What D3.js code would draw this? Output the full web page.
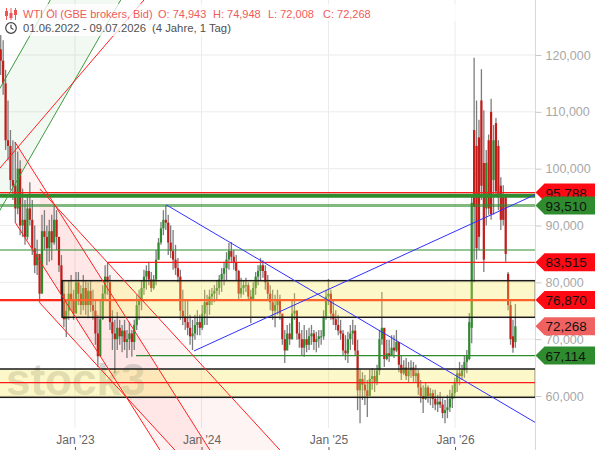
<!DOCTYPE html>
<html>
<head>
    <meta charset="utf-8">
    <style>
        body {
            margin: 0;
            background: #fff;
        }

        svg {
            display: block;
            font-family: "Liberation Sans", Arial, sans-serif;
        }

        .y .domain,
        .x .domain {
            display: none;
        }

        .y .tick line {
            stroke: #c8c8c8;
        }

        .y .tick text {
            font-size: 12.5px;
            fill: #a8a8a8;
        }

        .x .tick line {
            stroke: #555;
        }

        .x .tick text {
            font-size: 12px;
            fill: #666;
        }
    </style>
</head>

<body>
    <svg width="595" height="450"></svg>

    <script src="https://d3js.org/d3.v7.min.js"></script>

    <script>
        // weekly candles, WTI, starting 01.06.2022
        const opens = [
            121, 119, 115, 105, 104, 98, 97, 93, 100, 90,
            91, 88, 93, 91, 86, 83, 85, 78, 89, 88,
            86, 89, 87, 91, 88, 83, 78, 73.5, 75, 78,
            77, 74.5, 80, 78, 76, 79, 76, 78.5, 76, 75,
            71, 67, 73.5, 78, 81, 80, 73, 71, 70, 72,
            70.5, 71.5, 69.5, 70, 71, 69.5, 72.5, 76, 77, 79,
            81, 82, 80.5, 79, 80.5, 84, 87, 89.5, 91, 90.5,
            87, 85.5, 84, 82.5, 81, 75, 74, 73, 72, 70.5,
            71, 72.5, 73, 72, 74.5, 76.5, 76, 77.5, 78, 78.5,
            79, 80.5, 81.5, 82.5, 84, 85.5, 84.5, 83.5, 82, 78,
            79, 79.5, 79.5, 77.5, 77, 79, 81, 82, 83, 82,
            80, 78, 76.5, 75, 76, 77, 74.5, 70, 68, 71,
            70, 74.5, 75, 71, 70, 68.5, 70, 69, 70.5, 71,
            69.5, 70, 70.5, 70.5, 74, 77.5, 78, 74.5, 73.5, 72.5,
            71.5, 71, 68, 67.5, 70, 71, 71.5, 68, 61, 63,
            62, 61, 60, 63, 63.5, 62.5, 64.5, 70, 72, 66.5,
            67.5, 67, 68.5, 68, 69.5, 65.5, 64, 65, 63.5, 64.5,
            65, 63.5, 64, 61.5, 60, 59.5, 61.5, 60, 60.5, 59.5,
            58.5, 59, 58.5, 57, 57.5, 58, 59.5, 60.5, 62.5, 64,
            63.5, 64.5, 66, 66.5, 72, 106.8, 104, 105.5, 112, 101,
            93, 105, 110, 98, 108, 104, 97, 95, 95, 81.5,
            76, 70.5, 69.5
        ];

        const highs = [
            123.5, 122.6, 117.4, 112, 106.8, 105, 104.7, 103, 101.5, 96.5,
            94.5, 95.4, 97.6, 94.5, 90, 87.5, 84.8, 91.9, 92.7, 90,
            91, 91.9, 93.6, 92.7, 87.5, 84.8, 80.4, 76.9, 80.4, 81.3,
            78.7, 81.8, 81.8, 79.5, 81.3, 80.4, 80, 80.4, 78.7, 76.9,
            74.3, 76.9, 79.5, 83, 83.4, 81.3, 75.1, 73.4, 74.8, 73.4,
            72.5, 73.4, 71.6, 73, 71.6, 73.4, 77.8, 78.7, 80.4, 82.2,
            83, 83.6, 81.8, 81.3, 85.7, 87.8, 90.6, 92.7, 93.6, 91.9,
            90, 89.2, 86.6, 84.3, 82.2, 78.7, 76.9, 76.9, 74.3, 73.4,
            74.3, 75.1, 74.3, 76, 78.7, 77.8, 78.7, 79, 79.5, 80.4,
            81.3, 82.5, 83.6, 85.3, 86.9, 87.1, 85.7, 84.8, 82.2, 80.8,
            80.4, 80.8, 80, 78.7, 80, 81.8, 83, 84.3, 83.9, 83,
            81.3, 79.5, 78.7, 77.8, 78.7, 77.8, 74.3, 71.6, 72.5, 72.8,
            76.9, 78.1, 75.1, 73, 71.6, 72.5, 71.6, 72, 72.5, 71.6,
            71.3, 71.6, 71.6, 75.1, 78.7, 80.6, 78.7, 76.9, 75.1, 74.3,
            73.4, 71.6, 70.7, 71.3, 72.5, 73.4, 72.5, 69.9, 64.6, 64.2,
            63.7, 62.8, 64.6, 64.9, 64.6, 65.5, 71.6, 78.3, 71.6, 69.9,
            69.9, 70.7, 70.7, 71.6, 69, 67.2, 66.3, 66.7, 66, 66.3,
            66, 65.5, 64.6, 62.8, 61.9, 62.3, 61.9, 61.4, 61.1, 61.1,
            60.2, 60.7, 59.6, 59.3, 60.2, 61.1, 61.9, 63.2, 64.6, 66,
            65.5, 67.2, 68.1, 74.6, 95, 119.5, 112, 108.6, 117.5, 110.3,
            103.3, 106, 112.3, 107.7, 108.9, 105, 98.5, 97.1, 95.4, 81.8,
            76.9, 73.4, 76.2
        ];

        const lows = [
            116.5, 113, 103.3, 101.5, 96.2, 94.5, 90.6, 92, 88.3, 88,
            86.6, 87.5, 90, 84.8, 81.6, 81.3, 76.4, 78.7, 85.7, 83,
            83.6, 83.9, 86.6, 85.7, 81.8, 76.9, 72.1, 70.4, 73.4, 75.1,
            73.4, 75.1, 76, 74.3, 75.1, 74.3, 73.7, 74.8, 73.4, 69,
            65.1, 68.1, 73.4, 76.9, 77.8, 71.6, 68.1, 64, 68.1, 69,
            67.7, 68.1, 66.7, 68.1, 66.9, 68.1, 71.6, 73.4, 75.1, 77.8,
            78.7, 79.5, 78.3, 78.7, 79.5, 83.9, 86.6, 88.3, 89.2, 84.8,
            84.3, 82.2, 81.3, 80, 73.4, 72.5, 71.6, 70.7, 69, 68.1,
            69.9, 70.7, 70.7, 71.6, 72.5, 72.5, 74.3, 76, 76.5, 76.9,
            77.8, 78.3, 79.5, 80.4, 82.2, 83.6, 82.2, 80.4, 76.9, 77.3,
            77.8, 78.3, 76.9, 72.8, 76.9, 77.8, 79.5, 80.4, 80.8, 78.7,
            76.9, 75.1, 73.4, 72.1, 74.3, 73.4, 69, 65.8, 68.1, 69,
            69.9, 73.4, 69.9, 68.5, 67.2, 66.9, 67.7, 68.1, 69, 68.1,
            67.7, 68.5, 69, 69.9, 73.4, 76, 73.4, 72.5, 71.6, 70.7,
            69.9, 67.2, 66.3, 65.8, 68.1, 69, 67.2, 57.5, 55.2, 59.3,
            58.4, 56.3, 60.2, 61.1, 60.7, 61.9, 63.7, 69, 65.1, 66.3,
            66, 67.2, 66.7, 67.7, 64.2, 62.8, 63.7, 62.8, 62.3, 63.2,
            62.5, 62.3, 60.2, 58.8, 57, 59.3, 58.8, 58.4, 57.9, 57.5,
            57.2, 57.9, 56.1, 55.2, 56.1, 57.2, 57.9, 59.6, 60.7, 61.9,
            62.8, 63.2, 64, 66.3, 69.3, 80, 84, 85.7, 94.5, 81.8,
            90, 91.9, 91, 91.9, 95.4, 92.7, 89.2, 90, 83.6, 75.1,
            69, 67.6, 68.5
        ];

        const closes = [
            119, 115, 105, 104, 98, 97, 93, 100, 90, 91,
            88, 93, 91, 86, 83, 85, 78, 89, 88, 86,
            89, 87, 91, 88, 83, 78, 73.5, 75, 78, 77,
            74.5, 80, 78, 76, 79, 76, 78.5, 76, 75, 71,
            67, 73.5, 78, 81, 80, 73, 71, 70, 72, 70.5,
            71.5, 69.5, 70, 71, 69.5, 72.5, 76, 77, 79, 81,
            82, 80.5, 79, 80.5, 84, 87, 89.5, 91, 90.5, 87,
            85.5, 84, 82.5, 81, 75, 74, 73, 72, 70.5, 71,
            72.5, 73, 72, 74.5, 76.5, 76, 77.5, 78, 78.5, 79,
            80.5, 81.5, 82.5, 84, 85.5, 84.5, 83.5, 82, 78, 79,
            79.5, 79.5, 77.5, 77, 79, 81, 82, 83, 82, 80,
            78, 76.5, 75, 76, 77, 74.5, 70, 68, 71, 70,
            74.5, 75, 71, 70, 68.5, 70, 69, 70.5, 71, 69.5,
            70, 70.5, 70.5, 74, 77.5, 78, 74.5, 73.5, 72.5, 71.5,
            71, 68, 67.5, 70, 71, 71.5, 68, 61, 63, 62,
            61, 60, 63, 63.5, 62.5, 64.5, 70, 72, 66.5, 67.5,
            67, 68.5, 68, 69.5, 65.5, 64, 65, 63.5, 64.5, 65,
            63.5, 64, 61.5, 60, 59.5, 61.5, 60, 60.5, 59.5, 58.5,
            59, 58.5, 57, 57.5, 58, 59.5, 60.5, 62.5, 64, 63.5,
            64.5, 66, 67, 73, 94, 93.3, 86, 88, 97, 84,
            101, 93, 92, 105, 96, 95, 91, 91, 85, 76,
            70, 68.5, 72.268
        ];

        const yTicks = [60, 70, 80, 90, 100, 110, 120];
        const yearTicks = ["2023-01-01", "2024-01-01", "2025-01-01", "2026-01-01"];

        // price tags on the right
        const tagValues = [95.788, 93.510, 83.515, 76.870, 72.268, 67.114];
        const tagKinds = ["res", "sup", "res", "res", "last", "sup"];

        // horizontal drawings: [value, from date]
        const redLevels = [[95.788, "2022-05-01"], [83.515, "2023-04-06"], [62.35, "2022-05-01"]];
        const greenLevels = [[85.69, "2022-05-01"], [67.114, "2023-06-26"]];
        const boldGreenLevel = [95.25, "2022-05-01"];
        const softGreenLevel = [93.510, "2022-05-01"];
        const mainLevel = [76.870, "2022-05-01"];
        const zones = [[73.85, 80.29, "2022-11-25"], [59.77, 64.75, "2022-05-01"]];

        // trend lines: start point and a second point on the line [date, value]
        const greenChannel = [[["2022-05-30", 114.2], ["2022-10-22", 129.68]], [["2022-05-30", 92.73], ["2023-05-13", 129.68]]];
        const redRise = [["2022-05-30", 100.12], ["2023-07-19", 129.68]];
        const steepChannel = [[["2022-07-12", 104.69], ["2024-01-25", 50.5]], [["2022-07-12", 90.62], ["2023-09-03", 50.5]]];
        const flatChannel = [[["2022-09-22", 96.42], ["2024-08-14", 50.5]], [["2022-09-22", 76.36], ["2023-10-16", 50.5]]];
        const blueLines = [[["2023-09-22", 93.61], ["2026-08-18", 55.42]], [["2023-12-10", 67.92], ["2026-08-18", 95.37]]];

        let width = 595;
        let height = 450;
        let plotRight = 535.5;

        let svg = d3.select("svg");
        let parseDay = d3.timeParse("%Y-%m-%d");
        let de = d3.formatLocale({ decimal: ",", thousands: ".", grouping: [3], currency: ["", " €"] });
        let fmt = de.format(",.3f");

        let startDay = parseDay("2022-06-01");
        let candles = closes.map(function (c, i) {
            return {
                date: d3.timeDay.offset(startDay, i * 7),
                open: opens[i],
                high: highs[i],
                low: lows[i],
                close: c
            }
        })

        let x = d3.scaleTime()
            .domain([startDay, parseDay("2026-07-09")])
            .range([0.73, 520.6])

        let y = d3.scaleLinear()
            .domain([60, 120])
            .range([396, 55])

        let pt = p => [x(parseDay(p[0])), y(p[1])];

        svg.append("defs").append("clipPath")
            .attr("id", "plot")
            .append("rect")
            .attr("x", 0).attr("y", 0)
            .attr("width", plotRight).attr("height", height)

        // grid
        svg.append("g")
            .selectAll("line")
            .data(yTicks)
            .join("line")
            .attr("x1", 0).attr("x2", plotRight)
            .attr("y1", d => y(d)).attr("y2", d => y(d))
            .style("stroke", "#ebebeb")

        svg.append("g")
            .selectAll("line")
            .data(yearTicks)
            .join("line")
            .attr("x1", d => x(parseDay(d))).attr("x2", d => x(parseDay(d)))
            .attr("y1", 0).attr("y2", 428)
            .style("stroke", "#ebebeb")

        let plot = svg.append("g").attr("clip-path", "url(#plot)");

        // channel fills
        function channelFill(ch, fill, back) {
            let a = pt(ch[0][0]), b = pt(ch[0][1]), c = pt(ch[1][0]);
            let dx = b[0] - a[0], dy = b[1] - a[1];
            plot.append("path")
                .attr("d", d3.line()([
                    [a[0] - back * dx, a[1] - back * dy],
                    [a[0] + 3 * dx, a[1] + 3 * dy],
                    [c[0] + 3 * dx, c[1] + 3 * dy],
                    [c[0] - back * dx, c[1] - back * dy]
                ]) + "Z")
                .style("fill", fill)
        }

        function ray(line, color, back, w) {
            let a = pt(line[0]), b = pt(line[1]);
            let dx = b[0] - a[0], dy = b[1] - a[1];
            plot.append("line")
                .attr("x1", a[0] - back * dx).attr("y1", a[1] - back * dy)
                .attr("x2", a[0] + 3 * dx).attr("y2", a[1] + 3 * dy)
                .style("stroke", color)
                .style("stroke-width", w || 1)
        }

        channelFill(greenChannel, "rgba(0,110,0,0.05)", 1);
        channelFill(steepChannel, "rgba(255,0,0,0.05)", 0);
        channelFill(flatChannel, "rgba(255,0,0,0.045)", 0);

        // watermark
        plot.append("text")
            .attr("x", 6)
            .attr("y", 395)
            .attr("font-size", 44)
            .attr("font-weight", "bold")
            .style("fill", "#9a9a9a")
            .style("opacity", 0.38)
            .text("stock3")

        // candles
        let cg = plot.append("g");
        cg.selectAll(".wick")
            .data(candles)
            .join("line")
            .attr("class", "wick")
            .attr("x1", d => x(d.date)).attr("x2", d => x(d.date))
            .attr("y1", d => y(d.high)).attr("y2", d => y(d.low))
            .style("stroke", "#7d7d7d")
            .style("stroke-width", 1.3)

        cg.selectAll(".body")
            .data(candles)
            .join("rect")
            .attr("class", "body")
            .attr("x", d => x(d.date) - 1.1)
            .attr("width", 2.2)
            .attr("y", d => y(Math.max(d.open, d.close)))
            .attr("height", d => Math.max(1, Math.abs(y(d.open) - y(d.close))))
            .style("fill", d => d.close >= d.open ? "#2d8a2d" : "#c21d1a")

        function hline(v, from, color, w, op) {
            plot.append("line")
                .attr("x1", x(parseDay(from))).attr("x2", plotRight)
                .attr("y1", y(v)).attr("y2", y(v))
                .style("stroke", color)
                .style("stroke-width", w)
                .style("opacity", op || 1)
        }

        hline(mainLevel[0], mainLevel[1], "#ff2a1a", 2.2);

        // zones
        zones.forEach(function (z) {
            plot.append("rect")
                .attr("x", x(parseDay(z[2])))
                .attr("width", plotRight - x(parseDay(z[2])))
                .attr("y", y(z[1]))
                .attr("height", y(z[0]) - y(z[1]))
                .style("fill", "rgb(250,232,80)")
                .style("fill-opacity", 0.3)
                .style("stroke", "#1a1a1a")
                .style("stroke-width", 1.5)
        })

        hline(boldGreenLevel[0], boldGreenLevel[1], "#2e8b2e", 4);
        hline(softGreenLevel[0], softGreenLevel[1], "#2e8b2e", 3, 0.6);
        greenLevels.forEach(l => hline(l[0], l[1], "#2e8b2e", 1.2));
        redLevels.forEach(l => hline(l[0], l[1], "#ff1a1a", 1.3));

        // trend lines
        greenChannel.forEach(l => ray(l, "#3c9a3c", 1));
        ray(redRise, "#ff2020", 1);
        steepChannel.forEach(l => ray(l, "#ff2020", 0));
        flatChannel.forEach(l => ray(l, "#ff2020", 0));
        blueLines.forEach(l => ray(l, "#3030ff", 0));

        // axes
        svg.append("line")
            .attr("x1", plotRight).attr("x2", plotRight)
            .attr("y1", 0).attr("y2", height)
            .style("stroke", "#d8d8d8")

        let yAxisSettings = d3.axisRight(y)
            .tickValues(yTicks)
            .tickSize(6)
            .tickPadding(4)
            .tickFormat(fmt)

        svg.append("g")
            .attr("class", "y axis")
            .attr("transform", `translate(${plotRight},0)`)
            .call(yAxisSettings)

        let xAxisSettings = d3.axisTop(x)
            .tickValues(yearTicks.map(parseDay))
            .tickSize(3)
            .tickPadding(3)
            .tickFormat(d3.timeFormat("%b '%y"))

        svg.append("g")
            .attr("class", "x axis")
            .attr("transform", `translate(0,${height})`)
            .call(xAxisSettings)

        // price tags
        let tagColor = { res: "#ff0a14", sup: "#2e8b2e", last: "#f06262" };
        let tags = svg.append("g")
            .selectAll("g")
            .data(tagValues.map((v, i) => ({ v: v, kind: tagKinds[i] })))
            .join("g")
            .attr("transform", d => `translate(${plotRight},${y(d.v)})`)

        tags.append("path")
            .attr("d", "M0,0L9,-9L60,-9L60,9L9,9Z")
            .style("fill", d => tagColor[d.kind])

        tags.append("text")
            .attr("x", 10)
            .attr("y", 5)
            .attr("font-size", 13.5)
            .style("fill", "#111")
            .text(d => fmt(d.v))

        // title block
        svg.append("rect")
            .attr("x", 2).attr("y", 4).attr("width", 470).attr("height", 17)
            .style("fill", "#fff").style("opacity", 0.75)
        svg.append("rect")
            .attr("x", 2).attr("y", 21).attr("width", 232).attr("height", 15)
            .style("fill", "#fff").style("opacity", 0.75)

        let icon = svg.append("g").style("stroke", "#f05555").style("fill", "#f05555");
        [6.5, 11, 15.5].forEach(function (cx, i) {
            icon.append("line").attr("x1", cx).attr("x2", cx).attr("y1", 8).attr("y2", 20).style("stroke-width", 1)
            icon.append("rect").attr("x", cx - 1.5).attr("width", 3).attr("y", [11, 13, 10][i]).attr("height", 5).style("stroke", "none")
        })

        let clock = svg.append("g").style("stroke", "#444").style("fill", "none").style("stroke-width", 1.2);
        clock.append("circle").attr("cx", 11).attr("cy", 28).attr("r", 5.3)
        clock.append("path").attr("d", "M11,24.8L11,28L13.4,29.4")

        let titleParts = [["WTI Öl (GBE brokers, Bid)", 23], ["O: 74,943", 158], ["H: 74,948", 213], ["L: 72,008", 268], ["C: 72,268", 323]];
        svg.append("g")
            .selectAll("text")
            .data(titleParts)
            .join("text")
            .attr("x", d => d[1])
            .attr("y", 17.5)
            .attr("font-size", 11)
            .style("fill", "#f05a5a")
            .text(d => d[0])

        let rangeParts = [["01.06.2022 - 09.07.2026", 23], ["(4 Jahre, 1 Tag)", 152]];
        svg.append("g")
            .selectAll("text")
            .data(rangeParts)
            .join("text")
            .attr("x", d => d[1])
            .attr("y", 32)
            .attr("font-size", 11.3)
            .style("fill", "#505050")
            .text(d => d[0])
    </script>
</body>
</html>
